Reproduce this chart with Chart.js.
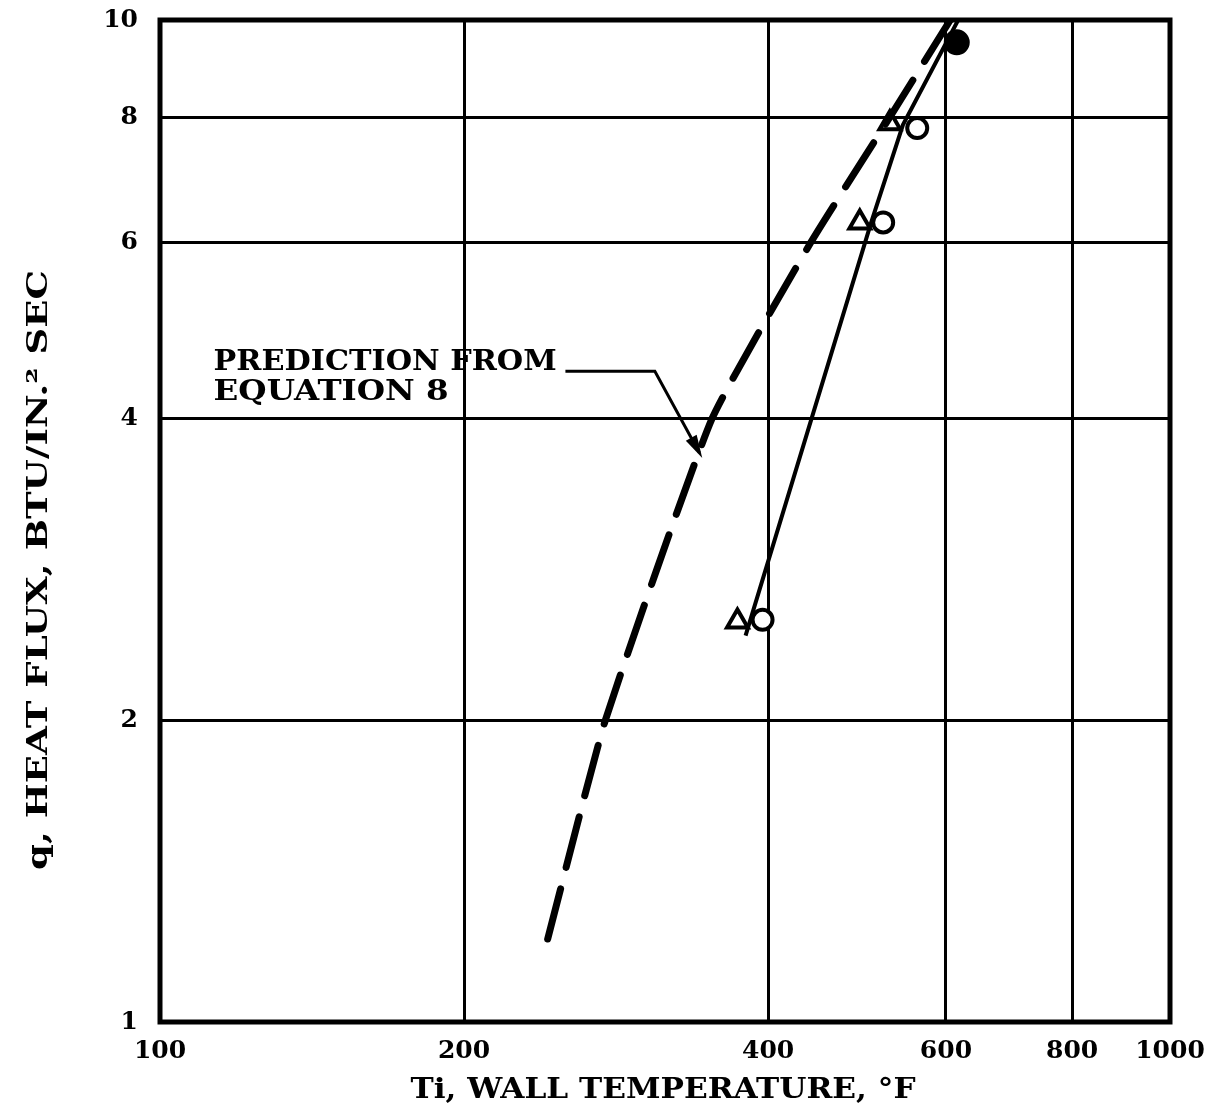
<!DOCTYPE html>
<html>
<head>
<meta charset="utf-8">
<script src="https://cdn.jsdelivr.net/npm/chart.js@4/dist/chart.umd.min.js"></script>
<style>
  html, body { margin: 0; padding: 0; background: #fff; }
  #wrap { width: 1207px; height: 1119px; }
</style>
</head>
<body>
<div id="wrap"><canvas id="myChart" width="1207" height="1119"></canvas></div>
<script>
// axis ticks
const tempTicks = [100, 200, 400, 600, 800, 1000];
const fluxTicks = [1, 2, 4, 6, 8, 10];

// prediction from equation 8 (dashed)
const predTemp = [242, 276, 352, 441, 528, 606];
const predFlux = [1.21, 2.0, 4.0, 6.0, 8.0, 10.0];

// faired test curve (solid)
const testTemp = [380, 506, 544, 617];
const testFlux = [2.43, 6.28, 7.86, 10.0];

// test points
const triTemp = [373, 493, 528];
const triFlux = [2.51, 6.28, 7.89];
const circTemp = [395, 520, 562];
const circFlux = [2.52, 6.28, 7.8];
const fillTemp = [615];
const fillFlux = [9.5];

// callout: text anchor, leader start, leader corner, arrow tip
const calloutTemp = [113, 252, 309, 342];
const calloutFlux = [4.47, 4.46, 4.46, 3.70];

const font = "'DejaVu Serif', serif";

function pts(xs, ys) {
    return xs.map((x, i) => ({ x: x, y: ys[i] }));
}

// heavy wide lettering: stretch text horizontally to a given width
function wideText(ctx, text, x, y, width, align) {
    const w = ctx.measureText(text).width;
    const sx = width / w;
    ctx.save();
    ctx.translate(align === 'center' ? x - width / 2 : x, y);
    ctx.scale(sx, 1);
    ctx.textAlign = 'left';
    ctx.fillText(text, 0, 0);
    ctx.restore();
}

//frame, axis titles, callout text and leader
const extras = {
    id: 'extras',
    afterDraw(chart) {
        const ctx = chart.ctx;
        const a = chart.chartArea;
        const xs = chart.scales.x, ys = chart.scales.y;
        ctx.save();
        ctx.strokeStyle = '#000';
        ctx.lineWidth = 5;
        ctx.strokeRect(a.left, a.top, a.right - a.left, a.bottom - a.top);

        ctx.fillStyle = '#000';
        ctx.textBaseline = 'middle';
        ctx.font = 'bold 28px ' + font;
        wideText(ctx, 'Ti, WALL TEMPERATURE, °F', (a.left + a.right) / 2 - 2, 1091, 505, 'center');

        ctx.save();
        ctx.translate(40, 570);
        ctx.rotate(-Math.PI / 2);
        ctx.font = 'bold 28px ' + font;
        wideText(ctx, 'q, HEAT FLUX, BTU/IN.² SEC', 0, 0, 600, 'center');
        ctx.restore();

        const px = calloutTemp.map(v => xs.getPixelForValue(v));
        const py = calloutFlux.map(v => ys.getPixelForValue(v));
        ctx.font = 'bold 28px ' + font;
        ctx.textBaseline = 'alphabetic';
        wideText(ctx, 'PREDICTION FROM', px[0], py[0], 343, 'left');
        wideText(ctx, 'EQUATION 8', px[0], py[0] + 30, 235, 'left');

        ctx.lineWidth = 3;
        ctx.beginPath();
        ctx.moveTo(px[1], py[1]);
        ctx.lineTo(px[2], py[2]);
        ctx.lineTo(px[3], py[3]);
        ctx.stroke();
        // arrow head
        const ang = Math.atan2(py[3] - py[2], px[3] - px[2]);
        ctx.beginPath();
        ctx.moveTo(px[3] + 6 * Math.cos(ang), py[3] + 6 * Math.sin(ang));
        ctx.lineTo(px[3] - 18 * Math.cos(ang - 0.35), py[3] - 18 * Math.sin(ang - 0.35));
        ctx.lineTo(px[3] - 18 * Math.cos(ang + 0.35), py[3] - 18 * Math.sin(ang + 0.35));
        ctx.closePath();
        ctx.fill();
        ctx.restore();
    }
};

const data = {
    datasets: [
        {
            label: 'Prediction',
            data: pts(predTemp, predFlux),
            showLine: true,
            borderColor: '#000',
            borderWidth: 7,
            borderDash: [52, 22],
            borderCapStyle: 'round',
            pointRadius: 0,
            tension: 0.15
        },
        {
            label: 'Test',
            data: pts(testTemp, testFlux),
            showLine: true,
            borderColor: '#000',
            borderWidth: 4,
            pointRadius: 0,
            tension: 0
        },
        {
            label: 'Triangles',
            data: pts(triTemp, triFlux),
            pointStyle: 'triangle',
            pointRadius: 12,
            borderColor: '#000',
            borderWidth: 4,
            backgroundColor: '#fff'
        },
        {
            label: 'Circles',
            data: pts(circTemp, circFlux),
            pointStyle: 'circle',
            pointRadius: 10,
            borderColor: '#000',
            borderWidth: 4,
            backgroundColor: '#fff'
        },
        {
            label: 'Filled',
            data: pts(fillTemp, fillFlux),
            pointStyle: 'circle',
            pointRadius: 12,
            borderColor: '#000',
            borderWidth: 2,
            backgroundColor: '#000'
        }
    ]
};

const config = {
    type: 'scatter',
    data: data,
    plugins: [extras],
    options: {
        responsive: false,
        animation: false,
        layout: { padding: { top: 20, right: 37, left: 0, bottom: 0 } },
        plugins: { legend: { display: false }, tooltip: { enabled: false } },
        scales: {
            x: {
                type: 'logarithmic',
                min: 100,
                max: 1000,
                afterBuildTicks: s => { s.ticks = tempTicks.map(v => ({ value: v })); },
                afterFit: s => { s.height = 97; s.paddingLeft = 0; s.paddingRight = 0; },
                grid: { color: '#000', lineWidth: 3, drawTicks: false },
                border: { display: false },
                ticks: {
                    color: '#000',
                    padding: 14,
                    autoSkip: false,
                    maxRotation: 0,
                    font: { family: font, weight: 'bold', size: 25 },
                    callback: v => String(v)
                }
            },
            y: {
                type: 'logarithmic',
                min: 1,
                max: 10,
                afterBuildTicks: s => { s.ticks = fluxTicks.map(v => ({ value: v })); },
                afterFit: s => { s.width = 160; s.paddingTop = 0; s.paddingBottom = 0; },
                grid: { color: '#000', lineWidth: 3, drawTicks: false },
                border: { display: false },
                ticks: {
                    color: '#000',
                    padding: 22,
                    autoSkip: false,
                    font: { family: font, weight: 'bold', size: 25 },
                    callback: v => String(v)
                }
            }
        }
    }
};

new Chart(document.getElementById('myChart'), config);
</script>
</body>
</html>
